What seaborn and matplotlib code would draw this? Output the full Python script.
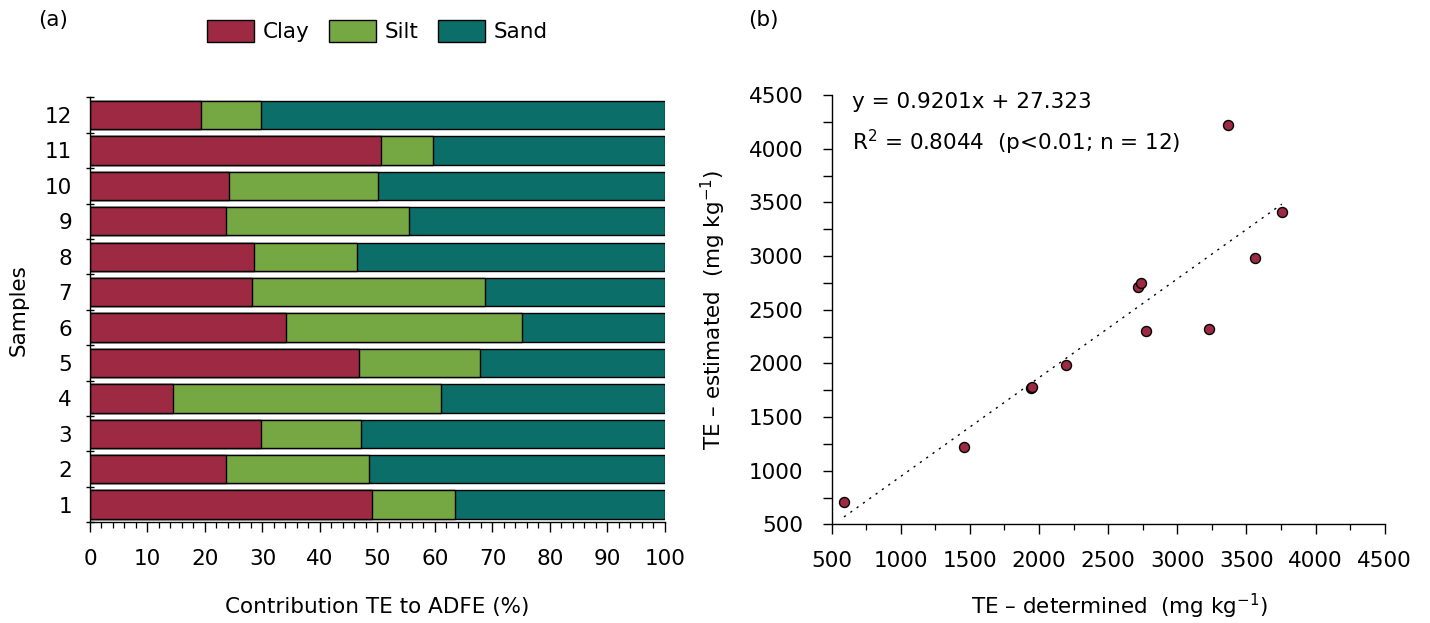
import numpy as np
import pandas as pd
import matplotlib
matplotlib.use("Agg")
import matplotlib.pyplot as plt
from matplotlib.ticker import MultipleLocator, FixedLocator
import seaborn as sns

# ---- particle-size fraction contributions (%) per sample ----
samples = ["1", "2", "3", "4", "5", "6", "7", "8", "9", "10", "11", "12"]
clay = [49.1, 23.6, 29.8, 14.4, 46.8, 34.1, 28.1, 28.6, 23.7, 24.1, 50.7, 19.4]
silt = [14.4, 25.0, 17.3, 46.6, 21.0, 41.0, 40.6, 17.8, 31.8, 26.0, 9.0, 10.3]
sand = [36.5, 51.4, 52.9, 39.0, 32.2, 24.9, 31.3, 53.6, 44.5, 49.9, 40.3, 70.3]

# ---- determined vs estimated TE (mg/kg) ----
te_determined = [589, 1459, 1940, 1952, 2193, 2718, 2740, 2776, 3230, 3370, 3563, 3756]
te_estimated = [713, 1220, 1768, 1778, 1983, 2712, 2750, 2300, 2322, 4221, 2980, 3408]
slope, intercept = 0.9201, 27.323

colors = {"Clay": "#9E2942", "Silt": "#75A742", "Sand": "#0B6E69"}

sns.set_style("ticks")
plt.rcParams["font.family"] = ["DejaVu Sans"]
plt.rcParams["mathtext.fontset"] = "dejavusans"
for key in ("text.color", "axes.labelcolor", "xtick.color", "ytick.color",
            "axes.edgecolor"):
    plt.rcParams[key] = "black"
FS = 15.5

fig = plt.figure(figsize=(14.30, 6.23), dpi=100)
ax1 = fig.add_axes([0.0629, 0.1616, 0.4021, 0.6822])
ax2 = fig.add_axes([0.5816, 0.1583, 0.3867, 0.6892])

# ---------------- (a) stacked horizontal bars ----------------
df = pd.DataFrame({"Sample": samples, "Clay": clay, "Silt": silt, "Sand": sand})
df["cum_silt"] = df["Clay"] + df["Silt"]
df["cum_sand"] = df["cum_silt"] + df["Sand"]
order = samples[::-1]

for col, label in [("cum_sand", "Sand"), ("cum_silt", "Silt"), ("Clay", "Clay")]:
    sns.barplot(data=df, x=col, y="Sample", order=order, orient="h",
                color=colors[label], edgecolor="black", linewidth=1.0,
                width=0.8, saturation=1, label=label, ax=ax1)

handles, labels = ax1.get_legend_handles_labels()
lookup = dict(zip(labels, handles))
if ax1.get_legend() is not None:
    ax1.get_legend().remove()

ax1.set_xlim(0, 100)
ax1.set_ylim(11.5, -0.5)
ax1.xaxis.set_major_locator(MultipleLocator(10))
ax1.xaxis.set_minor_locator(MultipleLocator(2))
ax1.yaxis.set_minor_locator(FixedLocator(np.arange(-0.5, 12, 1.0)))
ax1.tick_params(axis="x", which="major", direction="out", length=7.5, width=1,
                pad=12, labelsize=FS)
ax1.tick_params(axis="x", which="minor", direction="out", length=4.3, width=0.9)
ax1.tick_params(axis="y", which="major", length=0, pad=13, labelsize=FS)
ax1.tick_params(axis="y", which="minor", direction="inout", length=6, width=1)
ax1.set_xlabel("Contribution TE to ADFE (%)", fontsize=FS, va="center")
ax1.set_ylabel("Samples", fontsize=FS, va="center")
ax1.xaxis.set_label_coords(0.5, -0.199)
ax1.yaxis.set_label_coords(-0.1235, 0.5)
sns.despine(ax=ax1)
for s in ("left", "bottom"):
    ax1.spines[s].set_linewidth(1)

fig.legend([lookup[k] for k in ("Clay", "Silt", "Sand")], ["Clay", "Silt", "Sand"],
           loc="center", bbox_to_anchor=(0.264, 0.950), ncol=3, frameon=False,
           fontsize=FS, handlelength=2.2, handleheight=1.15, handletextpad=0.4,
           columnspacing=0.9, borderpad=0)

# ---------------- (b) determined vs estimated ----------------
sns.scatterplot(x=te_determined, y=te_estimated, color="#9E2942", edgecolor="black",
                linewidth=1, s=52, zorder=3, ax=ax2)
line_x = np.array([min(te_determined), max(te_determined)])
sns.lineplot(x=line_x, y=slope * line_x + intercept, color="black", lw=1,
             linestyle=(0, (1.6, 4)), ax=ax2, zorder=2)

ax2.set_xlim(500, 4500)
ax2.set_ylim(500, 4500)
ax2.xaxis.set_major_locator(MultipleLocator(500))
ax2.xaxis.set_minor_locator(MultipleLocator(250))
ax2.yaxis.set_major_locator(MultipleLocator(500))
ax2.yaxis.set_minor_locator(MultipleLocator(250))
ax2.tick_params(axis="x", which="major", direction="out", length=7.5, width=1,
                pad=12, labelsize=FS)
ax2.tick_params(axis="x", which="minor", direction="out", length=4.5, width=0.9)
ax2.tick_params(axis="y", which="both", direction="out", length=6.5, width=1,
                pad=14, labelsize=FS)
ax2.set_xlabel("TE \u2013 determined  (mg kg$^{-1}$)", fontsize=FS, va="center")
ax2.set_ylabel("TE \u2013 estimated  (mg kg$^{-1}$)", fontsize=FS, va="center")
ax2.xaxis.set_label_coords(0.521, -0.192)
ax2.yaxis.set_label_coords(-0.2146, 0.5)
sns.despine(ax=ax2)
for s in ("left", "bottom"):
    ax2.spines[s].set_linewidth(1)

ax2.text(0.0367, 0.969, f"y = {slope}x + {intercept}", transform=ax2.transAxes,
         fontsize=FS, va="baseline", ha="left")
ax2.text(0.0367, 0.872, "R$^{2}$ = 0.8044  (p<0.01; n = 12)", transform=ax2.transAxes,
         fontsize=FS, va="baseline", ha="left")

fig.text(38 / 1430, 1 - 20 / 623, "(a)", fontsize=FS, va="center", ha="left")
fig.text(748 / 1430, 1 - 20 / 623, "(b)", fontsize=FS, va="center", ha="left")

fig.savefig("out.png", dpi=100, facecolor="white")
